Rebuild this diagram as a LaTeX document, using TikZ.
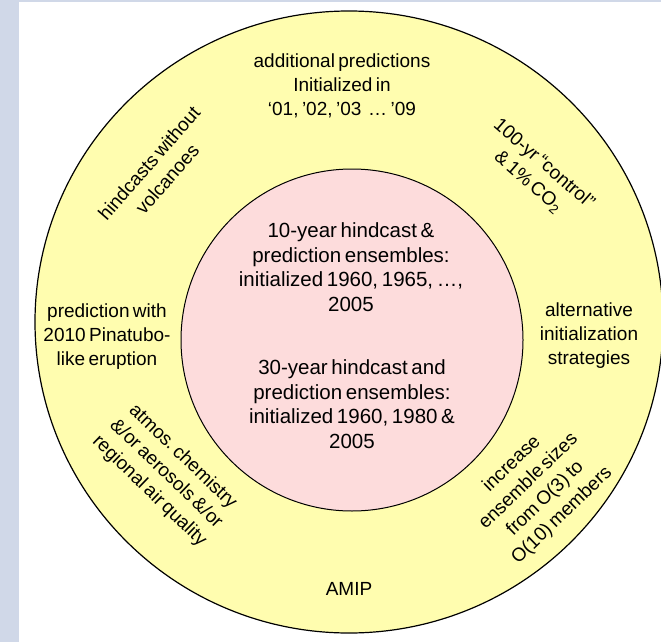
\documentclass[tikz,border=0pt]{standalone}
\usepackage{fontspec}
\setmainfont{Liberation Sans}
\frenchspacing
\definecolor{ringyellow}{HTML}{FFFDAF}
\definecolor{corepink}{HTML}{FDDCDC}
\definecolor{sidebar}{HTML}{D0D8E8}
\newcommand{\ringfont}{\fontsize{19}{24}\selectfont\spaceskip.18em\relax}
\newcommand{\corefont}{\fontsize{20.5}{24.5}\selectfont\spaceskip.18em\relax}
\tikzset{
  ringtext/.style={align=center,inner sep=0pt,font=\ringfont},
  coretext/.style={align=center,inner sep=0pt,font=\corefont}
}
\begin{document}
\begin{tikzpicture}[x=1pt,y=-1pt]
\useasboundingbox (0,0) rectangle (661,642);

\fill[sidebar] (0,0) rectangle (19,642);
\fill[sidebar] (19,0) rectangle (661,2);

%% outer ring and core
\filldraw[fill=ringyellow, line width=1.2pt] (349,322) ellipse [x radius=314pt, y radius=311pt];
\filldraw[fill=corepink, line width=1pt] (352,340) circle (171pt);

%% ring labels
\node[ringtext] (addpred) at (342,86) {additional predictions\\Initialized in\\‘01, ’02, ’03 \ … ’09};
\node[ringtext,rotate=49] (novolc) at (158,171) {hindcasts without\\volcanoes};
\node[ringtext,rotate=-41] (control) at (536,173) {100-yr “control”\\\& 1\% CO\textsubscript{2}};
\node[ringtext] (pinatubo) at (107,337) {prediction with\\2010 Pinatubo-\\like eruption};
\node[ringtext] (altinit) at (589,336) {alternative\\initialization\\strategies};
\node[ringtext,rotate=-44] (chem) at (166,474) {atmos. chemistry\\\&/or aerosols \&/or\\regional air quality};
\node[ringtext,rotate=44] (enssize) at (537,490) {increase\\ensemble sizes\\from O(3) to\\O(10) members};
\node[ringtext] (amip) at (349,589) {AMIP};

%% core labels
\node[coretext] (tenyr) at (351,267) {10-year hindcast \&\\prediction ensembles:\\initialized 1960, 1965, …,\\2005};
\node[coretext] (thirtyyr) at (352,404) {30-year hindcast and\\prediction ensembles:\\initialized 1960, 1980 \&\\2005};
\end{tikzpicture}
\end{document}
